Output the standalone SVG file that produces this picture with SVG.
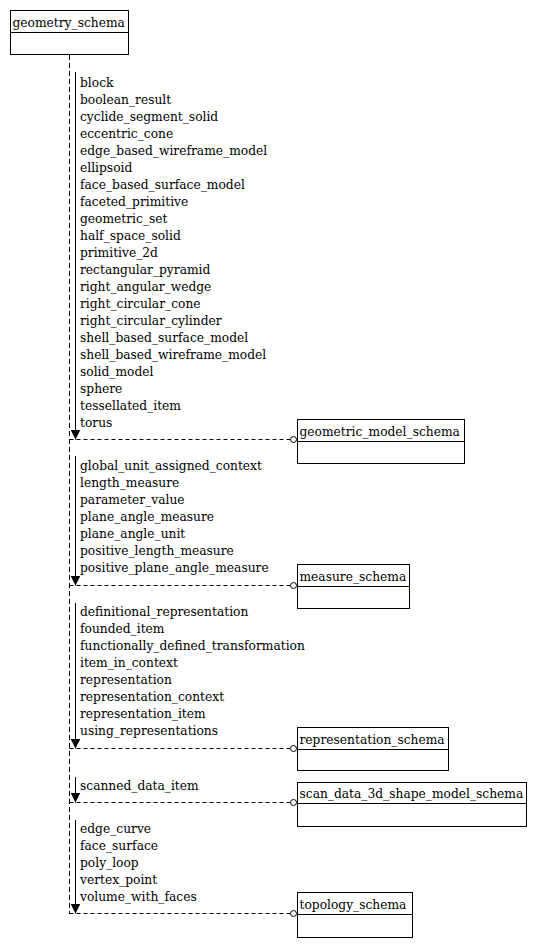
<svg xmlns="http://www.w3.org/2000/svg" width="536" height="947" viewBox="0 0 536 947">
  <style>
    text { font-family: "DejaVu Serif", "Liberation Serif", serif; font-size: 12.25px; fill: #000; }
    .box { fill: #fff; stroke: #000; stroke-width: 1; }
    .sep { stroke: #000; stroke-width: 1; }
    .dashv { stroke: #000; stroke-width: 1; stroke-dasharray: 5 3; fill: none; }
    .dashh { stroke: #000; stroke-width: 1; stroke-dasharray: 4 3; fill: none; }
    .flow { stroke: #000; stroke-width: 1; fill: none; }
    .end { fill: #fff; stroke: #000; stroke-width: 1; }
  </style>
  <defs>
    <marker id="arrow" viewBox="0 0 10 10" refX="10" refY="5" markerWidth="10" markerHeight="10" markerUnits="userSpaceOnUse" orient="auto">
      <path d="M0,0 L10,5 L0,10 z" fill="#000"/>
    </marker>
  </defs>
  <rect width="536" height="947" fill="#fff"/>

  <!-- schema boxes -->
  <g id="geometry_schema">
    <rect class="box" x="10.5" y="10.5" width="118" height="44"/>
    <line class="sep" x1="10.5" y1="32.5" x2="128.5" y2="32.5"/>
    <text x="12.5" y="27">geometry_schema</text>
  </g>
  <g id="geometric_model_schema">
    <rect class="box" x="297.5" y="419.5" width="167" height="44"/>
    <line class="sep" x1="297.5" y1="441.5" x2="464.5" y2="441.5"/>
    <text x="299.5" y="436">geometric_model_schema</text>
  </g>
  <g id="measure_schema">
    <rect class="box" x="297.5" y="564.5" width="112" height="44"/>
    <line class="sep" x1="297.5" y1="586.5" x2="409.5" y2="586.5"/>
    <text x="299.5" y="581">measure_schema</text>
  </g>
  <g id="representation_schema">
    <rect class="box" x="297.5" y="727.5" width="151" height="43"/>
    <line class="sep" x1="297.5" y1="749.5" x2="448.5" y2="749.5"/>
    <text x="299.5" y="744">representation_schema</text>
  </g>
  <g id="scan_data_3d_shape_model_schema">
    <rect class="box" x="297.5" y="782.5" width="229" height="44"/>
    <line class="sep" x1="297.5" y1="803.5" x2="526.5" y2="803.5"/>
    <text x="299.5" y="798">scan_data_3d_shape_model_schema</text>
  </g>
  <g id="topology_schema">
    <rect class="box" x="297.5" y="892.5" width="115" height="45"/>
    <line class="sep" x1="297.5" y1="914.5" x2="412.5" y2="914.5"/>
    <text x="299.5" y="909">topology_schema</text>
  </g>

  <!-- connectors -->
  <g id="connectors">
    <line class="dashv" x1="69.5" y1="55" x2="69.5" y2="914"/>

    <line class="dashh" x1="69.5" y1="439.5" x2="290.5" y2="439.5"/>
    <circle class="end" cx="293.5" cy="439.5" r="3"/>
    <line class="flow" x1="75.5" y1="72" x2="75.5" y2="439.5" marker-end="url(#arrow)"/>

    <line class="dashh" x1="69.5" y1="585.5" x2="290.5" y2="585.5"/>
    <circle class="end" cx="293.5" cy="585.5" r="3"/>
    <line class="flow" x1="75.5" y1="456" x2="75.5" y2="585.5" marker-end="url(#arrow)"/>

    <line class="dashh" x1="69.5" y1="748.5" x2="290.5" y2="748.5"/>
    <circle class="end" cx="293.5" cy="748.5" r="3"/>
    <line class="flow" x1="75.5" y1="603" x2="75.5" y2="748.5" marker-end="url(#arrow)"/>

    <line class="dashh" x1="69.5" y1="802.5" x2="290.5" y2="802.5"/>
    <circle class="end" cx="293.5" cy="802.5" r="3"/>
    <line class="flow" x1="75.5" y1="777" x2="75.5" y2="802.5" marker-end="url(#arrow)"/>

    <line class="dashh" x1="69.5" y1="913.5" x2="290.5" y2="913.5"/>
    <circle class="end" cx="293.5" cy="913.5" r="3"/>
    <line class="flow" x1="75.5" y1="820" x2="75.5" y2="913.5" marker-end="url(#arrow)"/>
  </g>

  <!-- imported item lists -->
  <g id="labels_geometric_model">
    <text x="80" y="87">block</text>
    <text x="80" y="104">boolean_result</text>
    <text x="80" y="121">cyclide_segment_solid</text>
    <text x="80" y="138">eccentric_cone</text>
    <text x="80" y="155">edge_based_wireframe_model</text>
    <text x="80" y="172">ellipsoid</text>
    <text x="80" y="189">face_based_surface_model</text>
    <text x="80" y="206">faceted_primitive</text>
    <text x="80" y="223">geometric_set</text>
    <text x="80" y="240">half_space_solid</text>
    <text x="80" y="257">primitive_2d</text>
    <text x="80" y="274">rectangular_pyramid</text>
    <text x="80" y="291">right_angular_wedge</text>
    <text x="80" y="308">right_circular_cone</text>
    <text x="80" y="325">right_circular_cylinder</text>
    <text x="80" y="342">shell_based_surface_model</text>
    <text x="80" y="359">shell_based_wireframe_model</text>
    <text x="80" y="376">solid_model</text>
    <text x="80" y="393">sphere</text>
    <text x="80" y="410">tessellated_item</text>
    <text x="80" y="427">torus</text>
  </g>
  <g id="labels_measure">
    <text x="80" y="470">global_unit_assigned_context</text>
    <text x="80" y="487">length_measure</text>
    <text x="80" y="504">parameter_value</text>
    <text x="80" y="521">plane_angle_measure</text>
    <text x="80" y="538">plane_angle_unit</text>
    <text x="80" y="555">positive_length_measure</text>
    <text x="80" y="572">positive_plane_angle_measure</text>
  </g>
  <g id="labels_representation">
    <text x="80" y="616">definitional_representation</text>
    <text x="80" y="633">founded_item</text>
    <text x="80" y="650">functionally_defined_transformation</text>
    <text x="80" y="667">item_in_context</text>
    <text x="80" y="684">representation</text>
    <text x="80" y="701">representation_context</text>
    <text x="80" y="718">representation_item</text>
    <text x="80" y="735">using_representations</text>
  </g>
  <g id="labels_scan_data">
    <text x="80" y="790">scanned_data_item</text>
  </g>
  <g id="labels_topology">
    <text x="80" y="833">edge_curve</text>
    <text x="80" y="850">face_surface</text>
    <text x="80" y="867">poly_loop</text>
    <text x="80" y="884">vertex_point</text>
    <text x="80" y="901">volume_with_faces</text>
  </g>
</svg>
